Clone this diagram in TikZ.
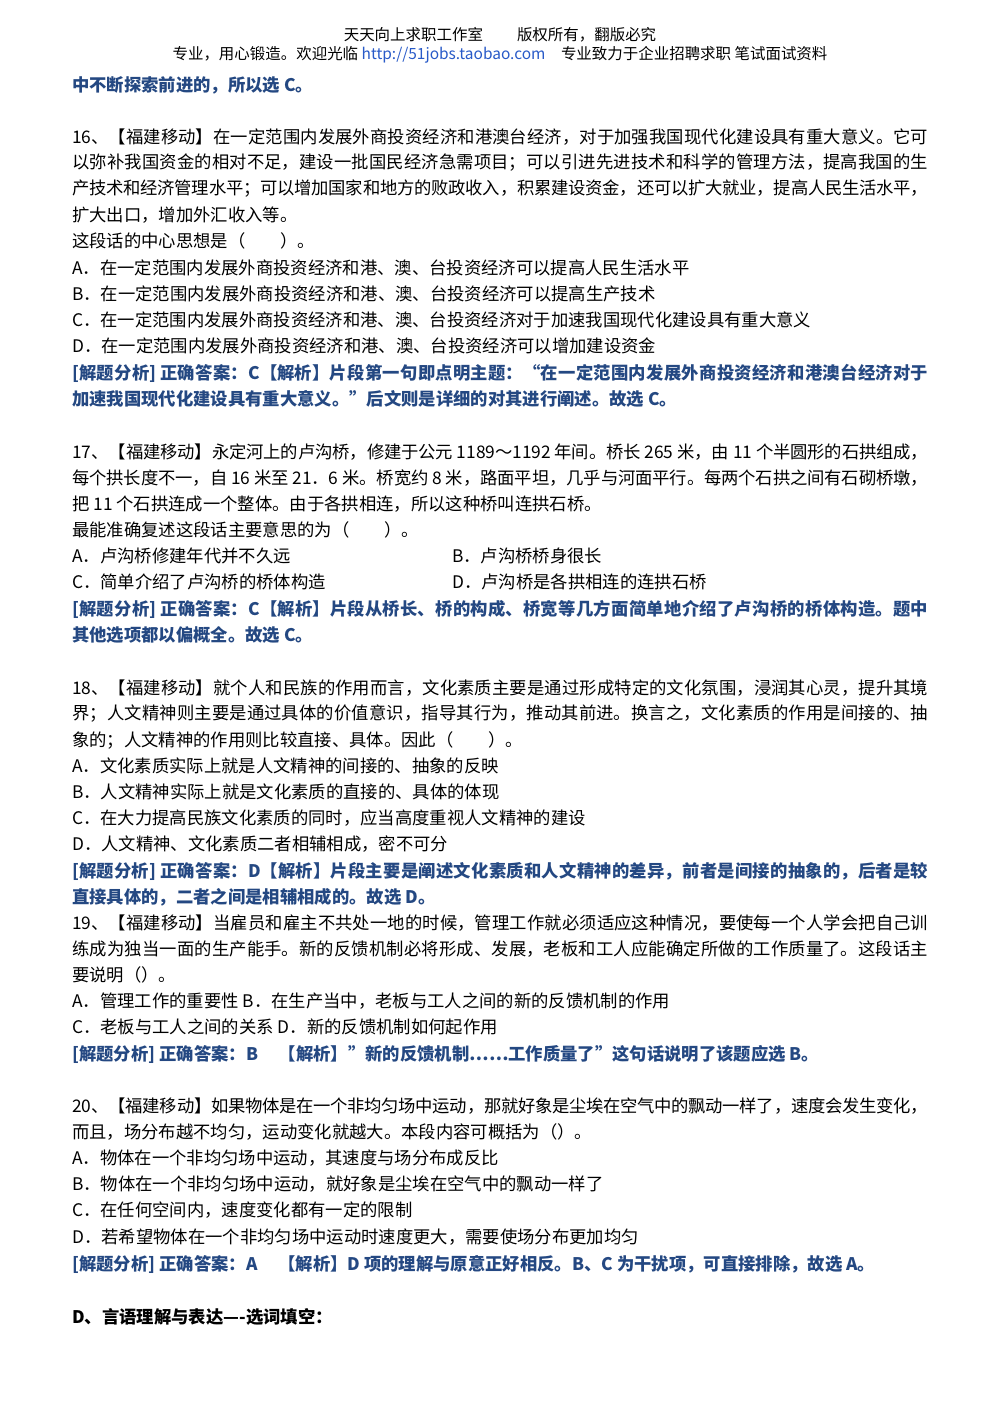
\documentclass[tikz,border=0pt]{standalone}
\usepackage{fontspec}
\setmainfont{Noto Sans CJK SC}
\definecolor{ans}{RGB}{36,72,130}
\definecolor{lnk}{RGB}{40,90,200}
\newcommand\jl[1]{\parbox{642pt}{\XeTeXlinebreaklocale "zh"\XeTeXlinebreakskip=0pt plus 6pt minus 1.5pt\parfillskip=0pt\noindent #1\par}}
\begin{document}
\begin{tikzpicture}[x=0.75pt,y=-0.75pt,
  t/.style={anchor=west,inner sep=0,font=\fontsize{13pt}{15pt}\selectfont},
  a/.style={t,text=ans,font=\fontsize{13pt}{15pt}\selectfont\bfseries},
  h/.style={anchor=center,inner sep=0,font=\fontsize{11.6pt}{13pt}\selectfont}]
\useasboundingbox (0,0) rectangle (1000,1414);
\fill[white] (0,0) rectangle (1000,1414);
\node[h] (h1) at (500,35) {天天向上求职工作室\hspace{2.2em}版权所有，翻版必究};
\node[h] (h2) at (500,55) {专业，用心锻造。欢迎光临 \textcolor{lnk}{http://51jobs.taobao.com}\hspace{1em}专业致力于企业招聘求职 笔试面试资料};
\node[a] (p0) at (72,85) {中不断探索前进的，所以选 C。};
% 16
\node[t] (q16a) at (72,137) {\jl{16、【福建移动】在一定范围内发展外商投资经济和港澳台经济，对于加强我国现代化建设具有重大意义。它可}};
\node[t] (q16b) at (72,163) {\jl{以弥补我国资金的相对不足，建设一批国民经济急需项目；可以引进先进技术和科学的管理方法，提高我国的生}};
\node[t] (q16c) at (72,189) {\jl{产技术和经济管理水平；可以增加国家和地方的败政收入，积累建设资金，还可以扩大就业，提高人民生活水平，}};
\node[t] (q16d) at (72,215) {扩大出口，增加外汇收入等。};
\node[t] (q16e) at (72,241) {这段话的中心思想是（\hspace{2em}）。};
\node[t] (q16A) at (72,268) {A．在一定范围内发展外商投资经济和港、澳、台投资经济可以提高人民生活水平};
\node[t] (q16B) at (72,294) {B．在一定范围内发展外商投资经济和港、澳、台投资经济可以提高生产技术};
\node[t] (q16C) at (72,320) {C．在一定范围内发展外商投资经济和港、澳、台投资经济对于加速我国现代化建设具有重大意义};
\node[t] (q16D) at (72,346) {D．在一定范围内发展外商投资经济和港、澳、台投资经济可以增加建设资金};
\node[a] (a16a) at (72,373) {\jl{[解题分析] 正确答案：C【解析】片段第一句即点明主题：“在一定范围内发展外商投资经济和港澳台经济对于}};
\node[a] (a16b) at (72,399) {加速我国现代化建设具有重大意义。”后文则是详细的对其进行阐述。故选 C。};
% 17
\node[t] (q17a) at (72,452) {\jl{17、【福建移动】永定河上的卢沟桥，修建于公元 1189～1192 年间。桥长 265 米，由 11 个半圆形的石拱组成，}};
\node[t] (q17b) at (72,478) {\jl{每个拱长度不一，自 16 米至 21．6 米。桥宽约 8 米，路面平坦，几乎与河面平行。每两个石拱之间有石砌桥墩，}};
\node[t] (q17c) at (72,504) {把 11 个石拱连成一个整体。由于各拱相连，所以这种桥叫连拱石桥。};
\node[t] (q17d) at (72,530) {最能准确复述这段话主要意思的为（\hspace{2em}）。};
\node[t] (q17A) at (72,556) {A．卢沟桥修建年代并不久远};
\node[t] (q17B) at (452,556) {B．卢沟桥桥身很长};
\node[t] (q17C) at (72,582) {C．简单介绍了卢沟桥的桥体构造};
\node[t] (q17D) at (452,582) {D．卢沟桥是各拱相连的连拱石桥};
\node[a] (a17a) at (72,609) {\jl{[解题分析] 正确答案：C【解析】片段从桥长、桥的构成、桥宽等几方面简单地介绍了卢沟桥的桥体构造。题中}};
\node[a] (a17b) at (72,635) {其他选项都以偏概全。故选 C。};
% 18
\node[t] (q18a) at (72,688) {\jl{18、【福建移动】就个人和民族的作用而言，文化素质主要是通过形成特定的文化氛围，浸润其心灵，提升其境}};
\node[t] (q18b) at (72,714) {\jl{界；人文精神则主要是通过具体的价值意识，指导其行为，推动其前进。换言之，文化素质的作用是间接的、抽}};
\node[t] (q18c) at (72,740) {象的；人文精神的作用则比较直接、具体。因此（\hspace{2em}）。};
\node[t] (q18A) at (72,766) {A．文化素质实际上就是人文精神的间接的、抽象的反映};
\node[t] (q18B) at (72,792) {B．人文精神实际上就是文化素质的直接的、具体的体现};
\node[t] (q18C) at (72,818) {C．在大力提高民族文化素质的同时，应当高度重视人文精神的建设};
\node[t] (q18D) at (72,844) {D．人文精神、文化素质二者相辅相成，密不可分};
\node[a] (a18a) at (72,871) {\jl{[解题分析] 正确答案：D【解析】片段主要是阐述文化素质和人文精神的差异，前者是间接的抽象的，后者是较}};
\node[a] (a18b) at (72,897) {直接具体的，二者之间是相辅相成的。故选 D。};
% 19
\node[t] (q19a) at (72,923) {\jl{19、【福建移动】当雇员和雇主不共处一地的时候，管理工作就必须适应这种情况，要使每一个人学会把自己训}};
\node[t] (q19b) at (72,949) {\jl{练成为独当一面的生产能手。新的反馈机制必将形成、发展，老板和工人应能确定所做的工作质量了。这段话主}};
\node[t] (q19c) at (72,975) {要说明（）。};
\node[t] (q19A) at (72,1001) {A．管理工作的重要性 B．在生产当中，老板与工人之间的新的反馈机制的作用};
\node[t] (q19C) at (72,1027) {C．老板与工人之间的关系 D．新的反馈机制如何起作用};
\node[a] (a19) at (72,1054) {[解题分析] 正确答案：B\hspace{1.2em}【解析】"新的反馈机制……工作质量了"这句话说明了该题应选 B。};
% 20
\node[t] (q20a) at (72,1106) {\jl{20、【福建移动】如果物体是在一个非均匀场中运动，那就好象是尘埃在空气中的飘动一样了，速度会发生变化，}};
\node[t] (q20b) at (72,1132) {而且，场分布越不均匀，运动变化就越大。本段内容可概括为（）。};
\node[t] (q20A) at (72,1158) {A．物体在一个非均匀场中运动，其速度与场分布成反比};
\node[t] (q20B) at (72,1184) {B．物体在一个非均匀场中运动，就好象是尘埃在空气中的飘动一样了};
\node[t] (q20C) at (72,1210) {C．在任何空间内，速度变化都有一定的限制};
\node[t] (q20D) at (72,1237) {D．若希望物体在一个非均匀场中运动时速度更大，需要使场分布更加均匀};
\node[a] (a20) at (72,1264) {[解题分析] 正确答案：A\hspace{1.2em}【解析】D 项的理解与原意正好相反。B、C 为干扰项，可直接排除，故选 A。};
\node[t,font=\fontsize{13pt}{15pt}\selectfont\bfseries] (sD) at (72,1317) {D、言语理解与表达----选词填空：};
\end{tikzpicture}
\end{document}
